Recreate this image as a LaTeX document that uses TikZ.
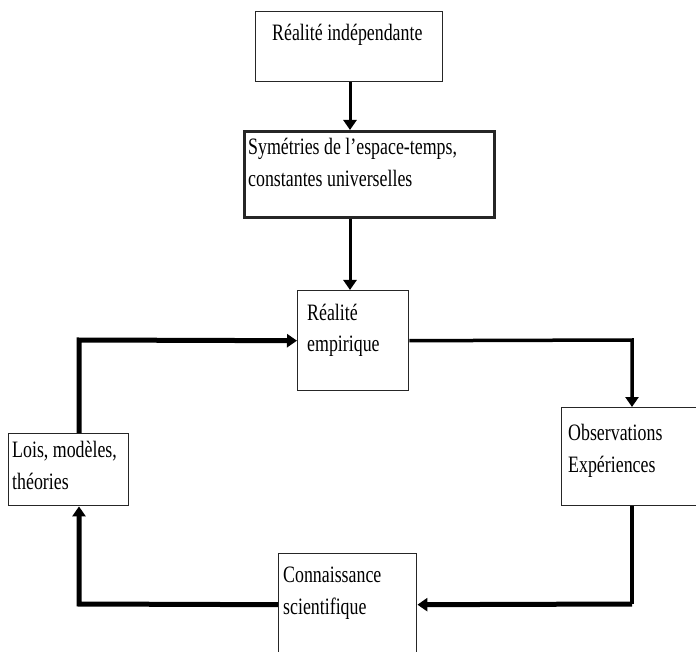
\documentclass[tikz,border=0pt]{standalone}
\usepackage{fontspec}
\setmainfont{Liberation Serif}[FakeStretch=0.76]
\usetikzlibrary{arrows.meta}
\begin{document}
\begin{tikzpicture}[x=1pt,y=-1pt,
  box/.style={draw=black!85,line width=1.4pt,rectangle,inner sep=0pt,anchor=north west},
  txt/.style={anchor=base west,inner sep=0pt,align=left,font=\fontsize{23.5}{32}\selectfont},
  tip/.style={-{Triangle[width=13pt,length=10pt]}},
  flow/.style={line width=3pt},
  heavy/.style={line width=5pt}]
\useasboundingbox[fill=white] (0,0) rectangle (696,652);
% boxes
\node[box,minimum width=187pt,minimum height=70pt] (ind) at (255,11) {};
\node[box,line width=2.8pt,minimum width=250pt,minimum height=86pt] (sym) at (243,130) {};
\node[box,minimum width=111pt,minimum height=100pt] (emp) at (297,290) {};
\node[box,minimum width=142pt,minimum height=98pt] (obs) at (561,407) {};
\node[box,minimum width=138pt,minimum height=102pt] (con) at (278,553) {};
\node[box,minimum width=120pt,minimum height=72pt] (loi) at (8,433) {};
% texts (base = baseline of the last line)
\node[txt] (tind) at (272,41) {Réalité indépendante};
\node[txt] (tsym) at (248,187) {Symétries de l’espace-temps,\\constantes universelles};
\node[txt] (temp) at (307,352) {Réalité\\empirique};
\node[txt] (tobs) at (568,472) {Observations\\Expériences};
\node[txt] (tcon) at (283,614) {Connaissance\\scientifique};
\node[txt] (tloi) at (12,489) {Lois, modèles,\\théories};
% corner coordinates
\coordinate (cr) at (632,340);
\coordinate (cb) at (632,604);
\coordinate (cl) at (79,604);
\coordinate (ct) at (79,340);
% connectors
\draw[flow,tip] (ind.south -| 350,0) -- (sym.north -| 350,0);
\draw[flow,tip] (sym.south -| 350,0) -- (emp.north -| 350,0);
\draw[flow,line width=3.5pt,tip] (emp.east) -- (cr) -- (obs.north -| cr);
\draw[line width=4pt] (obs.south -| cb) -- (cb);
\draw[heavy,tip] (cb) -- (con.east);
\draw[heavy,tip] (con.west) -- (cl) -- (loi.south -| cl);
\draw[heavy,tip] (loi.north -| ct) -- (ct) -- (emp.west);
\end{tikzpicture}
\end{document}
